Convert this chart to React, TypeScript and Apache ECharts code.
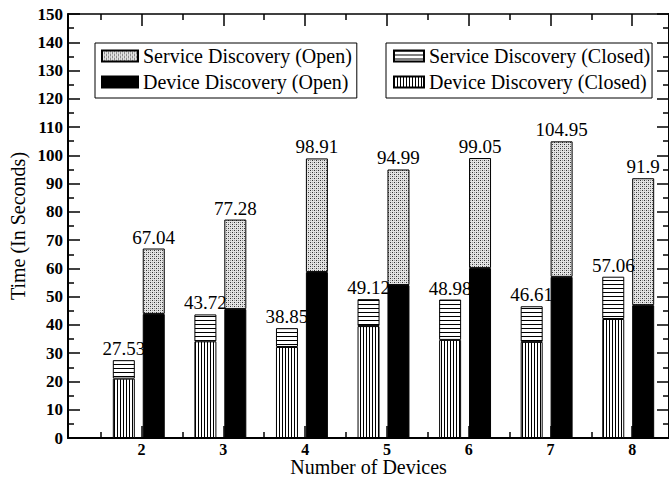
import React, { useEffect, useRef } from "react";
import * as echarts from "echarts";

const devices = ["2", "3", "4", "5", "6", "7", "8"];
const closedTotal = [27.53, 43.72, 38.85, 49.12, 48.98, 46.61, 57.06];
const closedDevice = [21, 34.2, 32.2, 39.6, 34.7, 34, 42.1];
const openTotal = [67.04, 77.28, 98.91, 94.99, 99.05, 104.95, 91.9];
const openDevice = [43.9, 45.6, 58.7, 54.1, 60.1, 57, 47];
const majorX = [2, 3, 4, 5, 6, 7, 8];
const minorX = [1.5, 2.5, 3.5, 4.5, 5.5, 6.5, 7.5];

const FONT = "Liberation Serif, Times New Roman, serif";

function makePattern(w: number, h: number, draw: (ctx: CanvasRenderingContext2D) => void) {
  const c = document.createElement("canvas");
  c.width = w;
  c.height = h;
  const ctx = c.getContext("2d")!;
  draw(ctx);
  return { image: c, repeat: "repeat" } as any;
}

export default function App() {
  const ref = useRef<HTMLDivElement>(null);
  useEffect(() => {
    if (!ref.current) return;
    const chart = echarts.init(ref.current, undefined, { renderer: "svg" });

    const vStripe = makePattern(3, 4, (ctx) => {
      ctx.fillStyle = "#fff";
      ctx.fillRect(0, 0, 3, 4);
      ctx.fillStyle = "#000";
      ctx.fillRect(0, 0, 1, 4);
    });
    const hStripe = makePattern(4, 4, (ctx) => {
      ctx.fillStyle = "#fff";
      ctx.fillRect(0, 0, 4, 4);
      ctx.fillStyle = "#000";
      ctx.fillRect(0, 0, 4, 1);
    });
    const dots = makePattern(4, 4, (ctx) => {
      ctx.fillStyle = "#e4e4e4";
      ctx.fillRect(0, 0, 4, 4);
      ctx.fillStyle = "#333";
      ctx.fillRect(0, 0, 1, 1);
      ctx.fillRect(2, 2, 1, 1);
      ctx.fillStyle = "#999";
      ctx.fillRect(2, 0, 1, 1);
      ctx.fillRect(0, 2, 1, 1);
    });

    const barCommon = {
      type: "bar",
      barWidth: 22,
      barGap: "36%",
      xAxisIndex: 4,
      yAxisIndex: 2,
    };
    const labelStyle = {
      show: true,
      position: "top",
      distance: 2,
      color: "#000",
      fontFamily: FONT,
      fontSize: 19,
    };

    const xBase = {
      type: "value",
      gridIndex: 0,
      min: 1.1,
      max: 8.45,
      splitLine: { show: false },
    };
    const yBase = {
      type: "value",
      min: 0,
      max: 150,
      interval: 10,
      splitLine: { show: false },
      minorSplitLine: { show: false },
    };

    chart.setOption({
      animation: false,
      backgroundColor: "#fff",
      grid: [
        { left: 65, top: 14, right: 0, bottom: 45 },
        { left: 98, top: 14, right: -3, bottom: 45 },
      ],
      legend: [
        {
          data: ["Service Discovery (Open)", "Device Discovery (Open)"],
          orient: "vertical",
          left: 95,
          top: 43,
          icon: "rect",
          itemWidth: 36,
          itemHeight: 11,
          itemGap: 6,
          padding: [3, 5, 6, 6],
          borderColor: "#000",
          borderWidth: 1,
          backgroundColor: "#fff",
          selectedMode: false,
          textStyle: { fontFamily: FONT, fontSize: 20, color: "#000", lineHeight: 20 },
        },
        {
          data: ["Service Discovery (Closed)", "Device Discovery (Closed)"],
          orient: "vertical",
          left: 386,
          top: 43,
          icon: "rect",
          itemWidth: 30,
          itemHeight: 11,
          itemGap: 6,
          padding: [3, 2, 6, 7],
          borderColor: "#000",
          borderWidth: 1,
          backgroundColor: "#fff",
          selectedMode: false,
          textStyle: { fontFamily: FONT, fontSize: 20, color: "#000", lineHeight: 20 },
        },
      ],
      xAxis: [
        {
          ...xBase,
          position: "bottom",
          name: "Number of Devices",
          nameLocation: "middle",
          nameGap: 19,
          nameMoveOverlap: false,
          nameTextStyle: { fontFamily: FONT, fontSize: 20, color: "#000" },
          axisLine: { show: true, lineStyle: { color: "#000", width: 2 } },
          axisTick: { show: true, inside: true, length: 12, customValues: majorX, lineStyle: { color: "#000", width: 1.5 } },
          axisLabel: { show: true, customValues: majorX, margin: 3, fontFamily: FONT, fontWeight: "bold", fontSize: 16, color: "#000" },
        },
        {
          ...xBase,
          position: "bottom",
          offset: 0,
          axisLine: { show: false },
          axisTick: { show: true, inside: true, length: 6, customValues: minorX, lineStyle: { color: "#000", width: 1.5 } },
          axisLabel: { show: false },
        },
        {
          ...xBase,
          position: "top",
          axisLine: { show: true, lineStyle: { color: "#000", width: 1.5 } },
          axisTick: { show: true, inside: true, length: 12, customValues: majorX, lineStyle: { color: "#000", width: 1.5 } },
          axisLabel: { show: false },
        },
        {
          ...xBase,
          position: "top",
          offset: 0,
          axisLine: { show: false },
          axisTick: { show: true, inside: true, length: 6, customValues: minorX, lineStyle: { color: "#000", width: 1.5 } },
          axisLabel: { show: false },
        },
        {
          type: "category",
          gridIndex: 1,
          data: devices,
          show: false,
        },
      ],
      yAxis: [
        {
          ...yBase,
          gridIndex: 0,
          position: "left",
          name: "Time (In Seconds)",
          nameLocation: "middle",
          nameGap: 40,
          nameMoveOverlap: false,
          nameTextStyle: { fontFamily: FONT, fontSize: 20, color: "#000" },
          axisLine: { show: true, lineStyle: { color: "#000", width: 2 } },
          axisTick: { show: true, inside: true, length: 12, lineStyle: { color: "#000", width: 1.5 } },
          minorTick: { show: true, splitNumber: 2, length: 6, lineStyle: { color: "#000", width: 1.5 } },
          axisLabel: { show: true, margin: 5, fontFamily: FONT, fontWeight: "bold", fontSize: 17, color: "#000" },
        },
        {
          ...yBase,
          gridIndex: 0,
          position: "right",
          axisLine: { show: true, lineStyle: { color: "#000", width: 2 } },
          axisTick: { show: true, inside: true, length: 12, lineStyle: { color: "#000", width: 1.5 } },
          minorTick: { show: true, splitNumber: 2, length: 6, lineStyle: { color: "#000", width: 1.5 } },
          axisLabel: { show: false },
        },
        {
          ...yBase,
          gridIndex: 1,
          show: false,
        },
      ],
      series: [
        {
          ...barCommon,
          name: "Device Discovery (Closed)",
          stack: "closed",
          data: closedDevice,
          itemStyle: { color: vStripe, borderColor: "#000", borderWidth: 1 },
        },
        {
          ...barCommon,
          name: "Service Discovery (Closed)",
          stack: "closed",
          data: closedTotal.map((t, i) => +(t - closedDevice[i]).toFixed(2)),
          itemStyle: { color: hStripe, borderColor: "#000", borderWidth: 1 },
          label: { ...labelStyle, formatter: (p: any) => String(closedTotal[p.dataIndex]) },
        },
        {
          ...barCommon,
          name: "Device Discovery (Open)",
          stack: "open",
          data: openDevice,
          itemStyle: { color: "#000", borderColor: "#000", borderWidth: 1 },
        },
        {
          ...barCommon,
          name: "Service Discovery (Open)",
          stack: "open",
          data: openTotal.map((t, i) => +(t - openDevice[i]).toFixed(2)),
          itemStyle: { color: dots, borderColor: "#000", borderWidth: 1 },
          label: { ...labelStyle, formatter: (p: any) => String(openTotal[p.dataIndex]) },
        },
      ],
    } as any);

    return () => chart.dispose();
  }, []);

  return (
    <div
      ref={ref}
      style={{ position: "fixed", left: 0, top: 0, width: 669, height: 483, background: "#fff" }}
    />
  );
}
